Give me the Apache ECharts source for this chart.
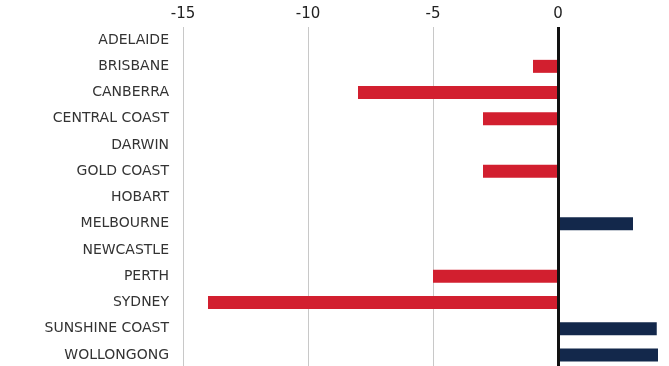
<!DOCTYPE html>
<html>
<head>
<meta charset="utf-8">
<script src="https://cdn.jsdelivr.net/npm/echarts@6/dist/echarts.min.js"></script>
<style>html,body{margin:0;padding:0;background:#fff}#c{width:669px;height:366px}</style>
</head>
<body>
<div id="c"></div>
<script>
const categories = ["ADELAIDE","BRISBANE","CANBERRA","CENTRAL COAST","DARWIN","GOLD COAST","HOBART","MELBOURNE","NEWCASTLE","PERTH","SYDNEY","SUNSHINE COAST","WOLLONGONG"];
const values = [0, -1, -8, -3, 0, -3, 0, 3, 0, -5, -14, 3.95, 4];
const tickLabels = ["-15","-10","-5","0"];
const RED = "#d21f2f", NAVY = "#13284b";

const chart = echarts.init(document.getElementById('c'), null, {renderer:'canvas'});
chart.setOption({
  animation: false,
  grid: {left: 183, top: 27, width: 500, height: 341, containLabel: false, outerBoundsMode: 'none'},
  xAxis: {
    type: 'value', position: 'top', min: -15, max: 5, interval: 5,
    axisLine: {show: false}, axisTick: {show: false},
    axisLabel: {
      margin: 5, fontSize: 15, color: '#222', fontFamily: '"DejaVu Sans", sans-serif',
      formatter: v => tickLabels.includes(String(v)) ? String(v) : ''
    },
    splitLine: {show: true, lineStyle: {color: '#c8c8c8', width: 1}}
  },
  yAxis: {
    type: 'category', data: categories, inverse: true,
    axisLine: {show: false}, axisTick: {show: false},
    axisLabel: {margin: 14, fontSize: 14, color: '#333', fontFamily: '"DejaVu Sans", sans-serif'},
    splitLine: {show: false}
  },
  series: [{
    type: 'bar', barWidth: 13,
    data: values.map(v => ({value: v, itemStyle: {color: v < 0 ? RED : NAVY}})),
    markLine: {
      silent: true, symbol: 'none', label: {show: false},
      lineStyle: {color: '#111', width: 3, type: 'solid'},
      data: [{xAxis: 0}]
    }
  }]
});
</script>
</body>
</html>
